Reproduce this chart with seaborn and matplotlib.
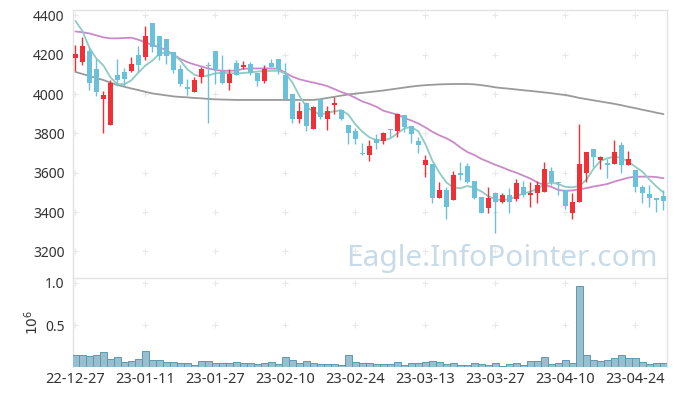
import numpy as np
import pandas as pd
import matplotlib
matplotlib.use("Agg")
import matplotlib.pyplot as plt
import seaborn as sns

# daily candles, 22-12-27 .. 23-04-28 (85 trading days)
opens = [4185, 4165, 4218, 4125, 3976, 3843, 4097, 4113, 4117, 4198,
         4190, 4359, 4295, 4278, 4215, 4125, 4034, 4012, 4088, 4150,
         4218, 4118, 4054, 4159, 4139, 4152, 4105, 4068, 4156, 4176,
         4097, 4000, 3875, 3956, 3821, 3973, 3871, 3943, 3919, 3843,
         3814, 3702, 3690, 3770, 3763, 3820, 3814, 3893, 3837, 3763,
         3639, 3644, 3473, 3512, 3461, 3600, 3634, 3558, 3475, 3419,
         3496, 3453, 3487, 3465, 3526, 3487, 3496, 3504, 3609, 3554,
         3512, 3397, 3453, 3597, 3719, 3665, 3648, 3644, 3741, 3639,
         3614, 3526, 3492, 3470, 3482]
highs = [4250, 4288, 4232, 4176, 4015, 4071, 4178, 4132, 4186, 4244,
         4345, 4359, 4295, 4278, 4215, 4147, 4076, 4088, 4139, 4164,
         4218, 4200, 4125, 4173, 4169, 4164, 4105, 4147, 4176, 4176,
         4156, 4000, 3961, 3961, 3939, 3973, 3939, 3983, 3919, 3843,
         3826, 3750, 3766, 3797, 3808, 3821, 3902, 3893, 3837, 3780,
         3690, 3644, 3554, 3526, 3610, 3656, 3648, 3558, 3475, 3526,
         3504, 3496, 3521, 3567, 3560, 3554, 3560, 3656, 3631, 3554,
         3512, 3496, 3848, 3707, 3719, 3685, 3668, 3766, 3758, 3712,
         3614, 3538, 3538, 3470, 3512]
lows = [4115, 4147, 4020, 3990, 3803, 3843, 4041, 4041, 4113, 4113,
        4173, 4215, 4173, 4152, 4105, 4041, 3995, 4012, 4057, 3853,
        4050, 4050, 4020, 4097, 4125, 4097, 4041, 4057, 4136, 4102,
        3973, 3851, 3851, 3814, 3821, 3875, 3817, 3898, 3870, 3746,
        3746, 3690, 3661, 3719, 3746, 3780, 3780, 3809, 3753, 3699,
        3577, 3445, 3473, 3363, 3461, 3563, 3546, 3468, 3394, 3397,
        3295, 3445, 3397, 3455, 3475, 3427, 3448, 3504, 3538, 3487,
        3414, 3363, 3453, 3554, 3631, 3617, 3572, 3644, 3597, 3639,
        3504, 3445, 3424, 3402, 3411]
closes = [4205, 4245, 4057, 4012, 3995, 4057, 4071, 4076, 4152, 4147,
          4295, 4237, 4193, 4193, 4122, 4051, 4027, 4071, 4125, 4145,
          4125, 4054, 4102, 4097, 4147, 4108, 4068, 4125, 4136, 4125,
          3973, 3875, 3914, 3837, 3932, 3885, 3915, 3956, 3875, 3803,
          3770, 3697, 3736, 3753, 3803, 3815, 3898, 3834, 3795, 3741,
          3665, 3473, 3512, 3427, 3589, 3587, 3554, 3473, 3394, 3470,
          3453, 3487, 3453, 3546, 3487, 3496, 3538, 3617, 3554, 3546,
          3431, 3453, 3644, 3704, 3678, 3678, 3639, 3707, 3639, 3668,
          3526, 3496, 3470, 3461, 3458]
# volume in millions
volume = [0.144, 0.144, 0.132, 0.144, 0.180, 0.097, 0.120, 0.061, 0.077, 0.097,
          0.190, 0.085, 0.085, 0.061, 0.061, 0.050, 0.057, 0.026, 0.073, 0.073,
          0.050, 0.057, 0.050, 0.061, 0.050, 0.050, 0.038, 0.050, 0.061, 0.038,
          0.120, 0.089, 0.050, 0.073, 0.050, 0.038, 0.038, 0.045, 0.033, 0.144,
          0.061, 0.050, 0.050, 0.038, 0.038, 0.038, 0.061, 0.026, 0.050, 0.050,
          0.061, 0.073, 0.061, 0.038, 0.050, 0.026, 0.026, 0.050, 0.038, 0.026,
          0.050, 0.014, 0.038, 0.050, 0.026, 0.073, 0.073, 0.120, 0.038, 0.050,
          0.085, 0.050, 0.963, 0.144, 0.085, 0.073, 0.085, 0.109, 0.144, 0.109,
          0.109, 0.061, 0.038, 0.050, 0.050]
# moving averages as drawn
ma5 = [4372, 4320, 4235, 4180, 4145, 4085, 4050, 4050, 4070, 4110,
       4145, 4170, 4205, 4212, 4200, 4170, 4125, 4098, 4088, 4095,
       4105, 4108, 4106, 4105, 4107, 4110, 4114, 4117, 4118, 4118,
       4105, 4058, 3990, 3935, 3912, 3895, 3905, 3912, 3918, 3895,
       3845, 3808, 3780, 3765, 3764, 3775, 3800, 3826, 3832, 3810,
       3745, 3660, 3600, 3550, 3525, 3521, 3533, 3522, 3505, 3480,
       3465, 3461, 3465, 3480, 3495, 3504, 3520, 3540, 3550, 3542,
       3528, 3526, 3533, 3565, 3620, 3660, 3673, 3682, 3675, 3655,
       3630, 3605, 3565, 3530, 3499]
ma20 = [4318, 4314, 4308, 4298, 4288, 4283, 4283, 4285, 4286, 4276,
        4262, 4249, 4238, 4222, 4200, 4178, 4162, 4150, 4140, 4130,
        4122, 4118, 4118, 4120, 4128, 4130, 4130, 4130, 4130, 4128,
        4108, 4088, 4075, 4066, 4058, 4050, 4040, 4025, 4010, 3998,
        3980, 3962, 3950, 3935, 3915, 3905, 3895, 3878, 3865, 3850,
        3830, 3808, 3790, 3775, 3755, 3728, 3705, 3690, 3670, 3655,
        3640, 3627, 3612, 3600, 3585, 3570, 3550, 3538, 3528, 3512,
        3508, 3510, 3516, 3522, 3530, 3536, 3543, 3555, 3565, 3575,
        3580, 3580, 3580, 3578, 3572]
ma60 = [4112, 4102, 4092, 4081, 4071, 4058, 4046, 4037, 4028, 4020,
        4011, 4003, 3998, 3993, 3988, 3985, 3983, 3980, 3978, 3975,
        3973, 3972, 3971, 3970, 3970, 3970, 3970, 3970, 3970, 3970,
        3970, 3970, 3970, 3970, 3970, 3974, 3980, 3986, 3992, 3998,
        4002, 4006, 4010, 4014, 4018, 4023, 4028, 4033, 4038, 4042,
        4045, 4047, 4049, 4050, 4051, 4051, 4051, 4049, 4045, 4040,
        4034, 4030, 4027, 4023, 4019, 4016, 4012, 4008, 4004, 3999,
        3995, 3988, 3980, 3974, 3968, 3962, 3956, 3950, 3943, 3935,
        3928, 3920, 3913, 3905, 3898]

tick_pos = [0, 10, 20, 30, 40, 50, 60, 70, 80]
tick_labels = ["22-12-27", "23-01-11", "23-01-27", "23-02-10", "23-02-24",
               "23-03-13", "23-03-27", "23-04-10", "23-04-24"]
price_ticks = [3200, 3400, 3600, 3800, 4000, 4200, 4400]
vol_ticks = [0.5, 1.0]

UP = "#ef3137"
DOWN = "#6cc1da"
GRID = "#e8e8e8"

sns.set_style("white")
plt.rcParams["font.family"] = ["Noto Sans", "DejaVu Sans"]

df = pd.DataFrame({"idx": np.arange(len(closes)), "open": opens, "high": highs,
                   "low": lows, "close": closes, "vol": volume,
                   "ma5": ma5, "ma20": ma20, "ma60": ma60})

fig = plt.figure(figsize=(6.77, 3.96), dpi=100)
ax = fig.add_axes([0.1078, 0.3005, 0.8774, 0.6742])
axv = fig.add_axes([0.1078, 0.072, 0.8774, 0.226])

# moving averages
sns.lineplot(data=df, x="idx", y="ma60", ax=ax, color="#9a9a9a", lw=1.3, zorder=2)
sns.lineplot(data=df, x="idx", y="ma20", ax=ax, color="#c98ac7", lw=1.3, zorder=2)
sns.lineplot(data=df, x="idx", y="ma5", ax=ax, color="#8ecbc1", lw=1.3, zorder=2)

# candles
up = df["close"] >= df["open"]
colors = np.where(up, UP, DOWN)
body_lo = np.minimum(df["open"], df["close"])
body_h = np.maximum((df["close"] - df["open"]).abs(), 5)
ax.vlines(df["idx"], df["low"], df["high"], colors=colors, lw=1.0, zorder=3)
ax.bar(df["idx"], body_h, bottom=body_lo, width=0.62, color=colors, zorder=4, linewidth=0)

# volume
sns.barplot(data=df, x="idx", y="vol", ax=axv, native_scale=True, color="#97bfd0",
            saturation=1, width=1.0, edgecolor="#5f98af", linewidth=0.7, zorder=3)

for a, yt in ((ax, price_ticks), (axv, vol_ticks)):
    a.set_xlim(-0.35, 84.5)
    gx, gy = np.meshgrid(tick_pos, yt)
    a.scatter(gx.ravel(), gy.ravel(), marker="+", s=16, color=GRID, lw=0.8, zorder=1)
    a.set_yticks(yt)
    a.tick_params(length=0, labelsize=10, colors="#333333", pad=6)
    for s in a.spines.values():
        s.set_color("#e2e2e2")
        s.set_linewidth(1.0)
    a.set_xlabel("")
    a.set_ylabel("")

ax.set_ylim(3070, 4427)
ax.set_xticks(tick_pos)
ax.set_xticklabels([])
ax.spines["bottom"].set_visible(False)

axv.set_ylim(0, 1.058)
axv.set_yticks(vol_ticks)
axv.set_yticklabels(["0.5", "1.0"])
axv.set_xticks(tick_pos)
axv.set_xticklabels(tick_labels, fontsize=10.5)
axv.tick_params(axis="x", pad=3)
axv.spines["bottom"].set_visible(False)
axv.set_ylabel(r"$10^6$", fontsize=10, color="#333333", labelpad=2)

fig.text(0.742, 0.347, "Eagle.InfoPointer.com", fontsize=21.5, color="#c8dbe8",
         ha="center", va="center", zorder=10)

fig.savefig("out.png", dpi=100)
